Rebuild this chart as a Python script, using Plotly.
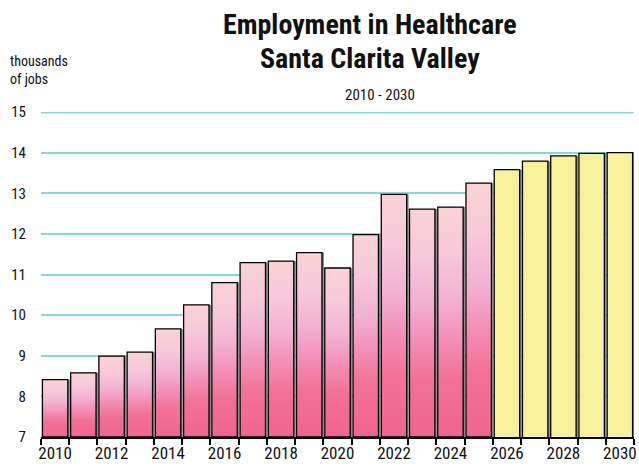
import plotly.graph_objects as go

years_actual = list(range(2010, 2026))
values_actual = [8.41, 8.58, 8.99, 9.09, 9.66, 10.25, 10.80, 11.29, 11.33, 11.54,
                 11.16, 11.98, 12.97, 12.61, 12.66, 13.25]
years_proj = list(range(2026, 2031))
values_proj = [13.58, 13.79, 13.92, 13.98, 14.00]
x_tick_vals = list(range(2010, 2031, 2))
y_tick_vals = list(range(7, 16))

FONT = "Liberation Sans Narrow, Arial Narrow, Roboto Condensed, Liberation Sans, sans-serif"
BW = 0.9
YMIN = 7
YMAX = 15
GRID = "#8ad6df"

all_years = years_actual + years_proj
all_vals = values_actual + values_proj

fig = go.Figure()

# shadow bars
fig.add_trace(go.Bar(x=all_years, y=all_vals, width=BW, offset=-BW / 2 + 0.07,
                     marker=dict(color="#8a8a8a", line=dict(width=0)),
                     hoverinfo="skip", showlegend=False))
# projected bars
fig.add_trace(go.Bar(x=years_proj, y=values_proj, width=BW, offset=-BW / 2,
                     marker=dict(color="#f6f29c", line=dict(color="black", width=1.3)),
                     showlegend=False))

pink_scale = [[0, "#f0658f"], [0.25, "#f27096"], [0.45, "#f393bb"], [0.6, "#f2b2d2"],
              [0.8, "#f7c8da"], [1, "#f9d3d5"]]
for yr, v in zip(years_actual, values_actual):
    x0, x1 = yr - BW / 2, yr + BW / 2
    fig.add_trace(go.Scatter(
        x=[x0, x0, x1, x1, x0], y=[YMIN, v, v, YMIN, YMIN],
        mode="lines", fill="toself",
        fillgradient=dict(type="vertical", colorscale=pink_scale, start=YMIN, stop=v),
        line=dict(color="black", width=1.3),
        hoverinfo="skip", showlegend=False))

# top gridline (clipped at the plot edge, so drawn double width)
fig.add_hline(y=YMAX, line=dict(color=GRID, width=3), layer="below")

fig.update_layout(
    width=639, height=468,
    margin=dict(l=41, r=2, t=112, b=31),
    paper_bgcolor="white", plot_bgcolor="white",
    barmode="overlay",
    font=dict(family=FONT, color="#111111"),
    xaxis=dict(range=[2009.5, 2030.5], tickmode="array", tickvals=x_tick_vals,
               ticktext=[str(v) for v in x_tick_vals], ticks="",
               tickfont=dict(size=17, family=FONT), showgrid=False, zeroline=False,
               showline=True, linecolor="black", linewidth=1.5,
               ticklabeloverflow="allow",
               minor=dict(tickmode="array", tickvals=[y - 0.5 for y in range(2010, 2032)],
                          ticks="outside", ticklen=6, tickcolor="black", tickwidth=1.5,
                          showgrid=False)),
    yaxis=dict(range=[YMIN, YMAX], tickmode="array", tickvals=y_tick_vals,
               tickfont=dict(size=15, family=FONT), showgrid=True,
               gridcolor=GRID, gridwidth=1.5, zeroline=False, showline=False,
               ticks="", ticklabelstandoff=14, ticklabelposition="outside"),
    annotations=[
        dict(text="<b>Employment in Healthcare</b>", x=0.554, y=1.268, xref="paper", yref="paper",
             showarrow=False, font=dict(size=28, family=FONT), xanchor="center", yanchor="middle"),
        dict(text="<b>Santa Clarita Valley</b>", x=0.554, y=1.166, xref="paper", yref="paper",
             showarrow=False, font=dict(size=28, family=FONT), xanchor="center", yanchor="middle"),
        dict(text="2010 - 2030", x=(382 - 41) / 596, y=1.052, xref="paper", yref="paper",
             showarrow=False, font=dict(size=15, family=FONT), xanchor="center", yanchor="middle"),
        dict(text="thousands<br>of jobs", x=(8 - 41) / 596, y=1.129, xref="paper", yref="paper",
             showarrow=False, font=dict(size=14, family=FONT), xanchor="left", yanchor="middle",
             align="left"),
    ],
)

fig.write_html("out.html", config={"displayModeBar": False},
               post_script="document.body.style.margin='0px';")
